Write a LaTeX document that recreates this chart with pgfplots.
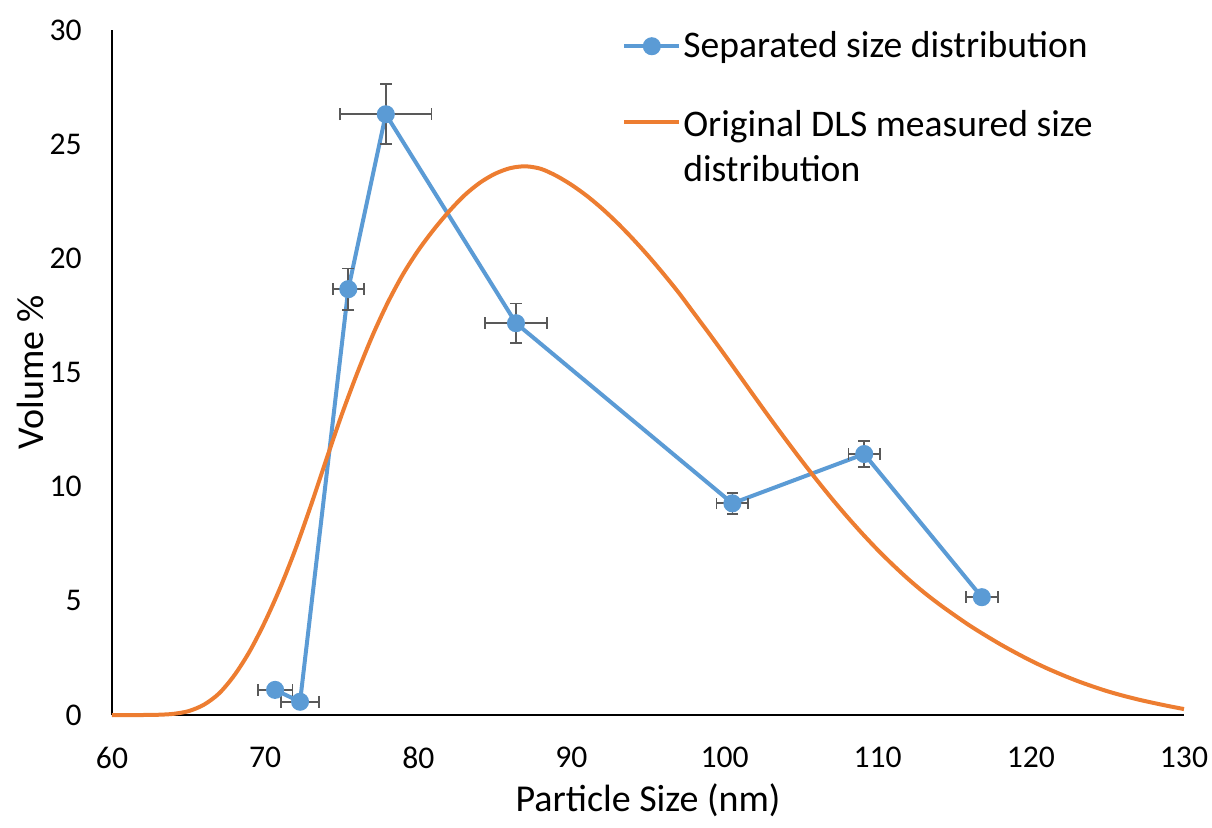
\documentclass[border=0pt]{standalone}
\usepackage{fontspec}
\setmainfont{Carlito}
\usepackage{pgfplots}
\pgfplotsset{compat=1.18}
\definecolor{xlblue}{HTML}{5B9BD5}
\definecolor{xlorange}{HTML}{ED7D31}
\definecolor{xlgray}{HTML}{595959}
\begin{document}
\begin{tikzpicture}
\path (-56pt,-56pt) rectangle (550pt,357.5pt);
\begin{axis}[
  scale only axis,
  width=536pt, height=342.5pt,
  xmin=60, xmax=130, ymin=0, ymax=30,
  xtick={60,70,...,130}, ytick={0,5,...,30},
  axis x line*=bottom, axis y line*=left,
  axis line style={black, line width=1pt, -},
  major tick length=0pt,
  tick style={draw=none},
  font=\fontsize{15.8}{19}\selectfont,
  /pgf/number format/assume math mode=true,
  xticklabel style={inner sep=0pt, anchor=north, yshift=-16pt},
  yticklabel style={inner sep=0pt, anchor=east, xshift=-15pt},
  xlabel={Particle Size (nm)},
  ylabel={Volume \%},
  label style={font=\fontsize{19}{22.8}\selectfont},
  xlabel style={at={(axis description cs:0.5,-0.124)}, anchor=center},
  ylabel style={at={(axis description cs:-0.0765,0.5)}, anchor=center},
  clip=false,
  legend style={at={(axis description cs:0.4757,1.004)}, anchor=north west,
    draw=none, fill=none, inner sep=0pt, row sep=18pt, column sep=0pt,
    nodes={inner xsep=1pt},
    font=\fontsize{18.8}{22.5}\selectfont},
  legend cell align=left,
  legend image code/.code={\draw[mark repeat=2,mark phase=2,#1] plot coordinates {(0pt,0pt) (13.75pt,0pt) (27.5pt,0pt)};},
]
\addplot[color=xlblue, line width=2pt, mark=*, mark size=3.5pt,
  mark options={solid, fill=xlblue, draw=xlblue},
  error bars/.cd, x dir=both, x explicit, y dir=both, y explicit,
  error bar style={xlgray, line width=0.85pt},
  error mark options={xlgray, line width=0.85pt, mark size=2.9pt, rotate=90}]
  coordinates {
  (70.65,1.10) +- (1.13,0.05)
  (72.28,0.58) +- (1.23,0.05)
  (75.43,18.65) +- (1.02,0.91)
  (77.88,26.31) +- (2.99,1.31)
  (86.38,17.16) +- (2.01,0.86)
  (100.51,9.27) +- (1.04,0.46)
  (109.12,11.43) +- (1.03,0.56)
  (116.80,5.16) +- (1.04,0.08)
  };
\addlegendentry{Separated size distribution}
\addplot[color=xlorange, line width=2pt, smooth, no marks] coordinates {
(60,0) (61,0) (62,0) (63,0.01) (64,0.05) (65,0.17) (66,0.45) (67,0.95) (68,1.75) (69,2.8)
(70,4.1) (71,5.6) (72,7.3) (73,9.2) (74,11.2) (75,13.15) (76,14.95) (77,16.6) (78,18.05) (79,19.3)
(80,20.35) (81,21.25) (82,22.05) (83,22.75) (84,23.3) (85,23.7) (86,23.95) (87,24.03) (88,23.92) (89,23.62)
(90,23.22) (91,22.74) (92,22.18) (93,21.55) (94,20.86) (95,20.12) (96,19.33) (97,18.5) (98,17.6) (99,16.7)
(100,15.78) (101,14.84) (102,13.9) (103,12.97) (104,12.06) (105,11.17) (106,10.31) (107,9.48) (108,8.69) (109,7.94)
(110,7.23) (111,6.57) (112,5.95) (113,5.38) (114,4.86) (115,4.38) (116,3.92) (117,3.5) (118,3.1) (119,2.73)
(120,2.38) (121,2.06) (122,1.77) (123,1.5) (124,1.26) (125,1.04) (126,0.85) (127,0.68) (128,0.53) (129,0.39) (130,0.26)
};
\addlegendentry{\begin{tabular}[t]{@{}l@{}}Original DLS measured size\\distribution\end{tabular}}
\end{axis}
\end{tikzpicture}
\end{document}
